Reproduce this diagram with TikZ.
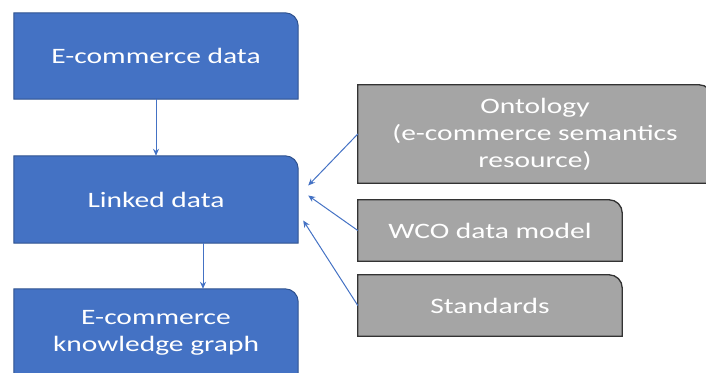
\documentclass[tikz,border=0pt]{standalone}
\usepackage{fontspec}
\setmainfont[FakeStretch=1.34]{Carlito}
\usetikzlibrary{arrows.meta,backgrounds}
\definecolor{boxblue}{HTML}{4472C4}
\definecolor{boxblueline}{HTML}{2F528F}
\definecolor{boxgray}{HTML}{A5A5A5}
\definecolor{boxgrayline}{HTML}{333333}

\tikzset{
    stepnode/.style={text=white, align=center, inner sep=0pt, font=\fontsize{22}{27}\selectfont},
    bluetab/.style={fill=boxblue, draw=boxblueline, line width=1pt},
    graytab/.style={fill=boxgray, draw=boxgrayline, line width=1.3pt},
    link/.style={draw=boxblue, line width=1pt, -{Stealth[length=7pt,width=6pt]}}
}

\begin{document}
\begin{tikzpicture}[x=1pt,y=1pt]
        \useasboundingbox (0,0) rectangle (706,372);

        % left column
        \node[stepnode, minimum width=284pt, minimum height=86pt] (ecd) at (156,316) {E-commerce data};
        \node[stepnode, minimum width=284pt, minimum height=87pt] (ld) at (156,172.5) {Linked data};
        \node[stepnode, minimum width=284pt, minimum height=87pt] (kg) at (156,39.5) {E-commerce\\ knowledge graph};

        % right column
        \node[stepnode, minimum width=354pt, minimum height=98pt] (onto) at (535,238) {Ontology\\ (e-commerce semantics\\ resource)};
        \node[stepnode, minimum width=264pt, minimum height=61pt] (wco) at (490,141.5) {WCO data model};
        \node[stepnode, minimum width=264pt, minimum height=61pt] (std) at (490,66.5) {Standards};

        % boxes with one round corner
        \begin{scope}[on background layer]
            \foreach \n/\s in {ecd/bluetab, ld/bluetab, kg/bluetab, onto/graytab, wco/graytab, std/graytab}
                \draw[\s] (\n.south west) -- (\n.north west) -- ([xshift=-13pt]\n.north east)
                    arc[start angle=90, end angle=0, radius=13pt] -- (\n.south east) -- cycle;
        \end{scope}

        \draw[link] (ecd.south) -- (ld.north);
        \draw[link] ([xshift=47pt]ld.south) -- ([xshift=47pt]kg.north);
        \draw[link] (onto.west) -- ([shift={(10pt,14pt)}]ld.east);
        \draw[link] (wco.west) -- ([shift={(10pt,4pt)}]ld.east);
        \draw[link] (std.west) -- ([shift={(5pt,-21pt)}]ld.east);
\end{tikzpicture}
\end{document}
